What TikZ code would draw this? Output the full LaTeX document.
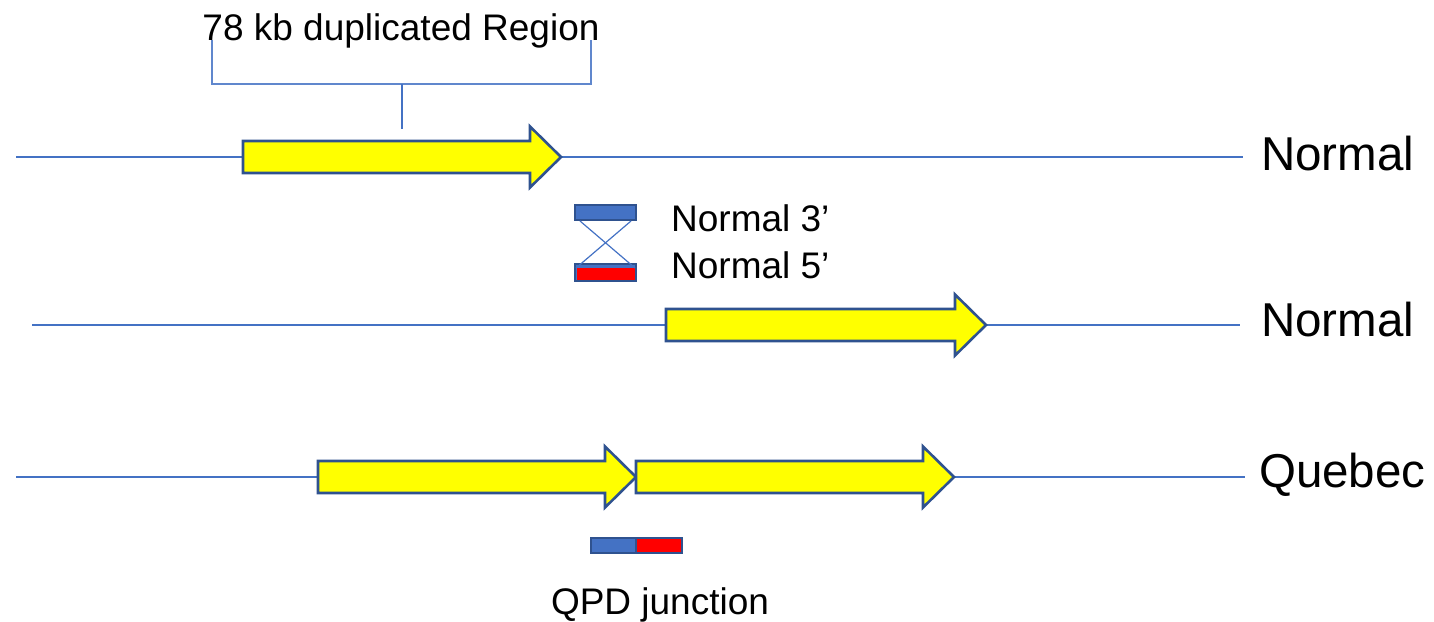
\documentclass[tikz,border=0pt]{standalone}
\usepackage{fontspec}
\setmainfont{Liberation Sans}
\usetikzlibrary{calc}
\definecolor{lineblue}{HTML}{4472C4}
\definecolor{edgeblue}{HTML}{2F528F}
\definecolor{boxred}{HTML}{FF0000}
\definecolor{arrowyellow}{HTML}{FFFF00}
\tikzset{
  strand/.style={draw=lineblue, line width=1.3pt},
  bracketline/.style={draw=lineblue!85, line width=1.6pt},
  dupshape/.style={draw=edgeblue, fill=arrowyellow, line width=2.6pt, line join=miter},
  seg/.style={draw=edgeblue, line width=2pt, fill=lineblue, inner sep=0pt},
  biglabel/.style={font=\fontsize{47.5}{50}\selectfont, inner sep=0pt},
  smalllabel/.style={font=\fontsize{37}{40}\selectfont, inner sep=0pt},
  pics/dup/.style={code={
    \draw[dupshape] (0,-16) -- ({#1-31},-16) -- ({#1-31},-30.5) -- (#1,0)
      -- ({#1-31},30.5) -- ({#1-31},16) -- (0,16) -- cycle;
  }}
}
\begin{document}
\begin{tikzpicture}[x=1pt, y=-1pt]
\useasboundingbox (0,0) rectangle (1434,621);

% chromosome strands
\coordinate (s1a) at (16,157);   \coordinate (s1b) at (1243,157);
\coordinate (s2a) at (32,325);   \coordinate (s2b) at (1240,325);
\coordinate (s3a) at (16,477);   \coordinate (s3b) at (1245,477);
\draw[strand] (s1a) -- (s1b);
\draw[strand] (s2a) -- (s2b);
\draw[strand] (s3a) -- (s3b);

% duplicated segments
\pic at (243,157) {dup=318};
\pic at (666,325) {dup=320};
\pic at (318,477) {dup=318};
\pic at (636,477) {dup=318};

% bracket over the duplicated region
\node[smalllabel, anchor=base] (title) at (401,40) {78 kb duplicated Region};
\coordinate (bl) at (212,40);  \coordinate (blc) at (212,84);
\coordinate (br) at (591,40);  \coordinate (brc) at (591,84);
\coordinate (bm) at (402,84);  \coordinate (bs) at (402,129);
\draw[bracketline] (bl) -- (blc) -- (brc) -- (br);
\draw[lineblue, line width=2pt] (bm) -- (bs);

% strand labels
\node[biglabel, anchor=base west] (n1) at (1261,170) {Normal};
\node[biglabel, anchor=base west] (n2) at (1261,336) {Normal};
\node[biglabel, anchor=base west] (q) at (1259,487) {Quebec};

% crossover of the two normal ends
\node[seg, minimum width=61pt, minimum height=15pt] (e3) at (605.5,212.5) {};
\node[seg, minimum width=61pt, minimum height=17pt,
  path picture={\fill[boxred] ($(path picture bounding box.south west)+(1.5,-1.5)$)
    rectangle ($(path picture bounding box.north east)+(-1.5,3.5)$);}] (e5) at (605.5,272.5) {};
\draw[lineblue, line width=1.2pt] ($(e3.south west)+(6,0)$) -- ($(e5.north east)+(-2,5)$);
\draw[lineblue, line width=1.2pt] ($(e3.south east)+(-6,0)$) -- ($(e5.north west)+(2,5)$);
\node[smalllabel, anchor=base west] (l3) at (671,231) {Normal 3’};
\node[smalllabel, anchor=base west] (l5) at (671,278) {Normal 5’};

% junction of the tandem copies
\node[seg, minimum width=45pt, minimum height=15pt] (qa) at (613.5,545.5) {};
\node[seg, fill=boxred, minimum width=46pt, minimum height=15pt] (qb) at (659,545.5) {};
\node[smalllabel, anchor=base] (qpd) at (660,614) {QPD junction};
\end{tikzpicture}
\end{document}
